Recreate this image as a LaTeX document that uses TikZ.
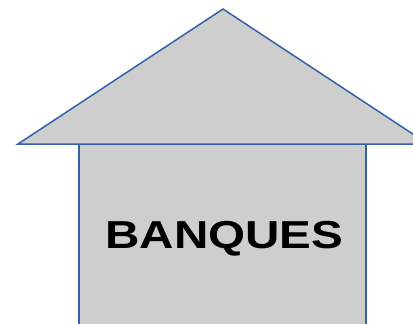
\documentclass[tikz,border=0pt]{standalone}
\usepackage{fontspec}
\setmainfont{Liberation Sans}
\usepackage{xcolor}
\definecolor{wall}{RGB}{206,206,206}
\definecolor{edge}{RGB}{52,98,168}
\usetikzlibrary{positioning}
\begin{document}
\begin{tikzpicture}[x=1pt, y=-1pt,
  part/.style={draw=edge, fill=wall, line width=1.5pt, line join=miter},
  sign/.style={font=\fontsize{39}{44}\selectfont\bfseries, xscale=1.22, inner sep=0pt}]
\useasboundingbox (0,0) rectangle (413,324);
\clip (0,0) rectangle (413,324);
% body of the house, then the roof over it
\draw[part] (79,144) rectangle (366,332);
\draw[part] (18,144) -- (223,9) -- (428,144) -- cycle;
\node[sign, anchor=base] (label) at (224.5,248) {BANQUES};
\end{tikzpicture}
\end{document}
